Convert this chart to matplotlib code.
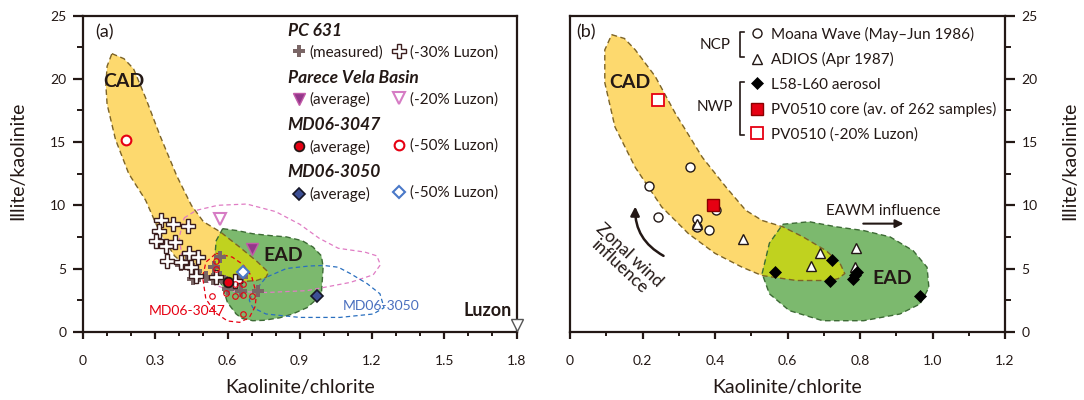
import matplotlib

matplotlib.use("Agg")
import matplotlib.pyplot as plt
import numpy as np
from matplotlib.lines import Line2D
from matplotlib.patches import Polygon
from matplotlib.ticker import FixedFormatter, FixedLocator, MultipleLocator

plt.rcParams["font.family"] = ["Lato", "DejaVu Sans"]

INK = "#231815"
YELLOW = "#fdd96e"
GREEN = "#7cb96e"
LIME = "#c0d21f"
RED = "#e60012"

# ---------------- panel (a) data ----------------
pc631_meas_x = [0.407, 0.44, 0.455, 0.48, 0.51, 0.54, 0.567, 0.594, 0.636, 0.657, 0.567, 0.546, 0.726, 0.47, 0.43, 0.60, 0.66]
pc631_meas_y = [5.24, 5.24, 4.2, 4.4, 4.3, 4.2, 4.3, 3.9, 3.8, 3.25, 5.9, 5.1, 3.25, 4.84, 5.6, 3.4, 4.3]
pc631_luzon30_x = [0.324, 0.372, 0.435, 0.317, 0.303, 0.344, 0.38, 0.35, 0.407, 0.44, 0.476, 0.449, 0.47, 0.553, 0.63]
pc631_luzon30_y = [8.8, 8.55, 8.4, 8.0, 7.2, 6.8, 7.1, 5.6, 5.5, 6.2, 5.9, 5.1, 4.4, 4.3, 4.05]
pvb_avg = (0.70, 6.56)
pvb_luzon20 = (0.567, 8.94)
md3047_avg = (0.60, 3.97)
md3047_luzon50_avg = (0.178, 15.2)
md3047_samples_x = [0.553, 0.553, 0.594, 0.633, 0.536, 0.664, 0.664, 0.70, 0.664, 0.633]
md3047_samples_y = [5.6, 5.0, 3.1, 2.8, 2.8, 3.8, 2.9, 2.8, 1.4, 3.8]
md3050_avg = (0.97, 2.8)
md3050_luzon50 = (0.664, 4.7)
luzon = (1.80, 0.55)

cad_a_x = [0.12, 0.17, 0.21, 0.26, 0.32, 0.39, 0.45, 0.50, 0.57, 0.65, 0.72, 0.77, 0.76, 0.72, 0.65,
           0.56, 0.50, 0.44, 0.38, 0.32, 0.26, 0.19, 0.135, 0.10, 0.095, 0.10]
cad_a_y = [22.0, 21.6, 20.8, 18.5, 15.5, 12.3, 10.0, 8.7, 7.9, 6.7, 5.6, 4.7, 4.3, 4.05, 3.95,
           4.1, 4.4, 5.0, 6.0, 7.8, 10.4, 12.5, 15.2, 18.0, 19.5, 21.0]
ead_a_x = [0.58, 0.64, 0.705, 0.78, 0.845, 0.91, 0.955, 0.99, 0.997, 0.99, 0.96, 0.93, 0.87, 0.817,
           0.75, 0.705, 0.66, 0.636, 0.60, 0.58, 0.555, 0.546, 0.553]
ead_a_y = [8.15, 8.0, 7.75, 7.6, 7.5, 7.2, 6.7, 6.0, 5.1, 3.0, 2.4, 1.9, 1.4, 1.1,
           0.9, 0.87, 1.05, 1.4, 2.3, 3.5, 4.6, 5.6, 7.2]
pvb_range_x = [0.42, 0.47, 0.56, 0.68, 0.80, 0.90, 0.98, 1.06, 1.17, 1.22, 1.235, 1.205, 1.11, 0.93,
               0.76, 0.62, 0.52, 0.45, 0.41, 0.40]
pvb_range_y = [9.0, 9.6, 10.0, 10.1, 9.5, 8.5, 7.4, 6.6, 6.3, 6.0, 5.3, 4.5, 3.9, 3.25,
               3.1, 3.2, 3.9, 4.8, 6.0, 7.5]
md3050_range_x = [0.69, 0.705, 0.76, 0.845, 0.94, 1.0, 1.06, 1.11, 1.18, 1.233, 1.25, 1.205, 1.067,
                  0.9, 0.76, 0.705]
md3050_range_y = [2.5, 3.0, 4.3, 5.0, 5.2, 5.24, 5.1, 4.6, 3.8, 3.0, 1.9, 1.4, 1.13,
                  1.13, 1.4, 1.9]
md3047_range_x = [0.553, 0.62, 0.665, 0.70, 0.72, 0.715, 0.69, 0.65, 0.60, 0.55, 0.51, 0.497, 0.51]
md3047_range_y = [6.2, 5.9, 5.3, 4.4, 3.0, 2.0, 1.1, 0.74, 0.85, 1.5, 2.6, 4.3, 5.5]

# ---------------- panel (b) data ----------------
moana_x = [0.33, 0.217, 0.242, 0.351, 0.351, 0.383, 0.404]
moana_y = [13.0, 11.5, 9.1, 8.9, 8.3, 8.07, 9.66]
adios_x = [0.351, 0.478, 0.689, 0.664, 0.789, 0.786]
adios_y = [8.5, 7.3, 6.24, 5.18, 6.6, 5.1]
aerosol_x = [0.566, 0.723, 0.717, 0.78, 0.793, 0.785, 0.965]
aerosol_y = [4.7, 5.7, 4.05, 4.2, 4.7, 4.5, 2.86]
pv0510_core = (0.395, 10.0)
pv0510_luzon20 = (0.242, 18.3)

cad_b_x = [0.115, 0.15, 0.18, 0.235, 0.29, 0.365, 0.43, 0.485, 0.53, 0.587, 0.643, 0.707, 0.745, 0.758,
           0.74, 0.717, 0.625, 0.53, 0.475, 0.40, 0.327, 0.253, 0.18, 0.124, 0.096, 0.096]
cad_b_y = [23.5, 23.2, 22.3, 20.2, 17.3, 13.8, 11.45, 9.6, 8.8, 8.3, 7.5, 6.4, 5.4, 4.6,
           4.2, 4.05, 4.05, 4.44, 5.1, 6.2, 7.75, 9.87, 13.0, 16.2, 19.7, 22.3]
ead_b_x = [0.587, 0.66, 0.734, 0.81, 0.883, 0.947, 0.985, 0.99, 0.966, 0.91, 0.81, 0.697, 0.605, 0.55, 0.53, 0.55]
ead_b_y = [8.5, 8.7, 8.3, 8.0, 7.5, 6.4, 5.1, 3.5, 2.2, 1.4, 0.87, 0.87, 1.67, 3.0, 4.6, 7.0]

xticks_a = [0, 0.3, 0.6, 0.9, 1.2, 1.5, 1.8]
xticklabels_a = ["0", "0.3", "0.6", "0.9", "1.2", "1.5", "1.8"]
xticks_b = [0, 0.2, 0.4, 0.6, 0.8, 1.0, 1.2]
xticklabels_b = ["0", "0.2", "0.4", "0.6", "0.8", "1.0", "1.2"]
yticks = [0, 5, 10, 15, 20, 25]


def style_axes(ax, xticks, xlabels, xmax):
    ax.set_xlim(0, xmax)
    ax.set_ylim(0, 25)
    for sp in ax.spines.values():
        sp.set_color(INK)
        sp.set_linewidth(1.6)
    ax.xaxis.set_major_locator(FixedLocator(xticks))
    ax.xaxis.set_major_formatter(FixedFormatter(xlabels))
    ax.xaxis.set_minor_locator(MultipleLocator(0.1))
    ax.yaxis.set_major_locator(FixedLocator(yticks))
    ax.yaxis.set_minor_locator(MultipleLocator(2.5))
    ax.tick_params(axis="x", which="major", length=5, width=1.6, pad=12, colors=INK, labelsize=10)
    ax.tick_params(axis="x", which="minor", length=3, width=1.4, colors=INK)
    ax.tick_params(axis="y", which="major", length=7, width=1.6, pad=5, colors=INK, labelsize=10)
    ax.tick_params(axis="y", which="minor", length=4, width=1.4, colors=INK)
    ax.set_xlabel("Kaolinite/chlorite", fontsize=14, color=INK)
    ax.xaxis.set_label_coords(0.5, -0.15)
    ax.set_ylabel("Illite/kaolinite", fontsize=14, color=INK)


def draw_regions(ax, cad_x, cad_y, ead_x, ead_y):
    cad = np.column_stack([cad_x, cad_y])
    ead = np.column_stack([ead_x, ead_y])
    ax.add_patch(Polygon(cad, closed=True, fc=YELLOW, ec="none", zorder=1))
    ead_fill = Polygon(ead, closed=True, fc=GREEN, ec="none", zorder=1.1)
    ax.add_patch(ead_fill)
    lime = Polygon(cad, closed=True, fc=LIME, ec="none", zorder=1.2)
    ax.add_patch(lime)
    lime.set_clip_path(ead_fill)
    ax.add_patch(Polygon(cad, closed=True, fc="none", ec="#7d6427", ls=(0, (4, 2.5)), lw=1.0, zorder=1.3))
    ax.add_patch(Polygon(ead, closed=True, fc="none", ec="#3d6b35", ls=(0, (4, 2.5)), lw=1.0, zorder=1.3))


fig = plt.figure(figsize=(10.84, 4), dpi=100)
ax_a = fig.add_axes([83 / 1084, 68.3 / 400, 433.5 / 1084, 316 / 400])
ax_b = fig.add_axes([570 / 1084, 68.3 / 400, 435 / 1084, 316 / 400])

# ================= panel (a) =================
style_axes(ax_a, xticks_a, xticklabels_a, 1.8)
ax_a.yaxis.set_label_coords(-0.13, 0.54)
draw_regions(ax_a, cad_a_x, cad_a_y, ead_a_x, ead_a_y)

ax_a.add_patch(Polygon(np.column_stack([pvb_range_x, pvb_range_y]), closed=True, fc="none",
                       ec="#e07cc4", ls=(0, (3.5, 2.5)), lw=0.9, zorder=2))
ax_a.add_patch(Polygon(np.column_stack([md3050_range_x, md3050_range_y]), closed=True, fc="none",
                       ec="#2a6fbf", ls=(0, (3.5, 2.5)), lw=0.9, zorder=2))
ax_a.add_patch(Polygon(np.column_stack([md3047_range_x, md3047_range_y]), closed=True, fc="none",
                       ec=RED, ls=(0, (3.5, 2.5)), lw=0.9, zorder=2))

gray_cross = dict(marker="P", ms=8, mfc="#7a6666", mec="#7a6666", mew=0, ls="none")
white_cross = dict(marker="P", ms=10, mfc="white", mec="#3b1e1e", mew=1.0, ls="none")
pv_fill = dict(marker="v", ms=9, mfc="#93378a", mec="#c25aa8", mew=1.0, ls="none")
pv_open = dict(marker="v", ms=9, mfc="white", mec="#d67cc4", mew=1.5, ls="none")
red_fill = dict(marker="o", ms=7, mfc=RED, mec=INK, mew=1.3, ls="none")
red_open = dict(marker="o", ms=7, mfc="white", mec=RED, mew=1.5, ls="none")
blue_fill = dict(marker="D", ms=6, mfc="#3c4f94", mec="#151525", mew=1.2, ls="none")
blue_open = dict(marker="D", ms=6, mfc="white", mec="#4a78c8", mew=1.5, ls="none")

ax_a.plot(pc631_meas_x, pc631_meas_y, zorder=3, **gray_cross)
ax_a.plot(pc631_luzon30_x, pc631_luzon30_y, zorder=3.1, **white_cross)
ax_a.plot(md3047_samples_x, md3047_samples_y, marker="o", ms=4, mfc="none", mec=RED, mew=0.8,
          ls="none", zorder=3.2)
ax_a.plot(*pvb_avg, zorder=4, **pv_fill)
ax_a.plot(*pvb_luzon20, zorder=4, **pv_open)
ax_a.plot(*md3047_avg, zorder=4, **red_fill)
ax_a.plot(*md3047_luzon50_avg, zorder=4, **red_open)
ax_a.plot(*md3050_avg, zorder=4, **blue_fill)
ax_a.plot(*md3050_luzon50, zorder=4, **blue_open)
ax_a.plot(*luzon, marker="v", ms=9, mfc="white", mec="#555555", mew=1.0, clip_on=False, zorder=5)

ax_a.text(0.17, 19.8, "CAD", fontsize=14, fontweight="bold", color=INK, ha="center", va="center", zorder=5)
ax_a.text(0.83, 6.0, "EAD", fontsize=14, fontweight="bold", color=INK, ha="center", va="center", zorder=5)
ax_a.text(1.78, 1.7, "Luzon", fontsize=13, fontweight="bold", color=INK, ha="right", va="center", zorder=5)
ax_a.text(0.275, 1.67, "MD06-3047", fontsize=10, color=RED, ha="left", va="center", zorder=5)
ax_a.text(1.08, 2.06, "MD06-3050", fontsize=10, color="#4a6fbf", ha="left", va="center", zorder=5)
ax_a.text(0.028, 0.946, "(a)", fontsize=13, color=INK, transform=ax_a.transAxes, va="center")

group_titles = ["PC 631", "Parece Vela Basin", "MD06-3047", "MD06-3050"]
group_title_y = [0.952, 0.802, 0.654, 0.504]
for title, ty in zip(group_titles, group_title_y):
    ax_a.text(0.472, ty, title, fontsize=12.5, fontweight="bold", fontstyle="italic", color=INK,
              transform=ax_a.transAxes, va="center", ha="left")

leg_a_handles = [Line2D([], [], **gray_cross), Line2D([], [], **pv_fill), Line2D([], [], **red_fill),
                 Line2D([], [], **blue_fill), Line2D([], [], **white_cross), Line2D([], [], **pv_open),
                 Line2D([], [], **red_open), Line2D([], [], **blue_open)]
leg_a_labels = ["(measured)", "(average)", "(average)", "(average)",
                "(-30% Luzon)", "(-20% Luzon)", "(-50% Luzon)", "(-50% Luzon)"]
leg_a = ax_a.legend(leg_a_handles, leg_a_labels, ncol=2, loc="upper left", bbox_to_anchor=(0.481, 0.906),
                    frameon=False, fontsize=11, borderpad=0, borderaxespad=0, handlelength=1.0,
                    handletextpad=0.2, columnspacing=0.5, labelspacing=2.12, labelcolor=INK)

# ================= panel (b) =================
style_axes(ax_b, xticks_b, xticklabels_b, 1.2)
ax_b.yaxis.tick_right()
ax_b.yaxis.set_label_position("right")
ax_b.yaxis.set_label_coords(1.13, 0.54)
draw_regions(ax_b, cad_b_x, cad_b_y, ead_b_x, ead_b_y)

moana = dict(marker="o", ms=6.5, mfc="white", mec=INK, mew=1.0, ls="none")
adios = dict(marker="^", ms=6.5, mfc="white", mec=INK, mew=1.0, ls="none")
aerosol = dict(marker="D", ms=6, mfc="black", mec="black", mew=0.5, ls="none")
core = dict(marker="s", ms=9, mfc=RED, mec="#8b0000", mew=1.0, ls="none")
core_open = dict(marker="s", ms=9, mfc="white", mec=RED, mew=1.3, ls="none")

ax_b.plot(moana_x, moana_y, zorder=3, **moana)
ax_b.plot(adios_x, adios_y, zorder=3.1, **adios)
ax_b.plot(aerosol_x, aerosol_y, zorder=3.2, **aerosol)
ax_b.plot(*pv0510_core, zorder=4, **core)
ax_b.plot(*pv0510_luzon20, zorder=4, **core_open)

ax_b.text(0.166, 19.7, "CAD", fontsize=14, fontweight="bold", color=INK, ha="center", va="center", zorder=5)
ax_b.text(0.888, 4.23, "EAD", fontsize=14, fontweight="bold", color=INK, ha="center", va="center", zorder=5)
ax_b.text(0.014, 0.946, "(b)", fontsize=13, color=INK, transform=ax_b.transAxes, va="center")

ax_b.text(0.707, 9.55, "EAWM influence", fontsize=11, color=INK, ha="left", va="center")
ax_b.annotate("", xy=(0.92, 8.55), xytext=(0.809, 8.55),
              arrowprops=dict(arrowstyle="-|>", lw=1.5, color=INK, mutation_scale=12, shrinkA=0, shrinkB=0))
ax_b.text(0.15, 5.6, "Zonal wind\ninfluence", fontsize=12.5, color=INK, rotation=-43,
          rotation_mode="anchor", ha="center", va="center", multialignment="center", linespacing=1.0)
ax_b.annotate("", xy=(0.18, 9.9), xytext=(0.258, 6.0),
              arrowprops=dict(arrowstyle="-|>", lw=1.8, color=INK, mutation_scale=13, shrinkA=0, shrinkB=0,
                              connectionstyle="arc3,rad=-0.3"))

leg_b_handles = [Line2D([], [], **moana), Line2D([], [], **adios), Line2D([], [], **aerosol),
                 Line2D([], [], **core), Line2D([], [], **core_open)]
leg_b_labels = ["Moana Wave (May\u2013Jun 1986)", "ADIOS (Apr 1987)", "L58-L60 aerosol",
                "PV0510 core (av. of 262 samples)", "PV0510 (-20% Luzon)"]
ax_b.legend(leg_b_handles, leg_b_labels, loc="upper left", bbox_to_anchor=(0.413, 0.965), frameon=False,
            fontsize=11, borderpad=0, borderaxespad=0, handlelength=1.0, handletextpad=0.4,
            labelspacing=0.68, labelcolor=INK)

# NCP / NWP brackets
for x0, y_top, y_bot in [(0.39, 0.948, 0.869), (0.39, 0.791, 0.622)]:
    ax_b.plot([x0 + 0.011, x0, x0, x0 + 0.011], [y_top, y_top, y_bot, y_bot], color=INK, lw=1.2,
              transform=ax_b.transAxes)
ax_b.text(0.333, 0.908, "NCP", fontsize=11, color=INK, transform=ax_b.transAxes, ha="center", va="center")
ax_b.text(0.333, 0.71, "NWP", fontsize=11, color=INK, transform=ax_b.transAxes, ha="center", va="center")

fig.savefig("out.png", dpi=100)
